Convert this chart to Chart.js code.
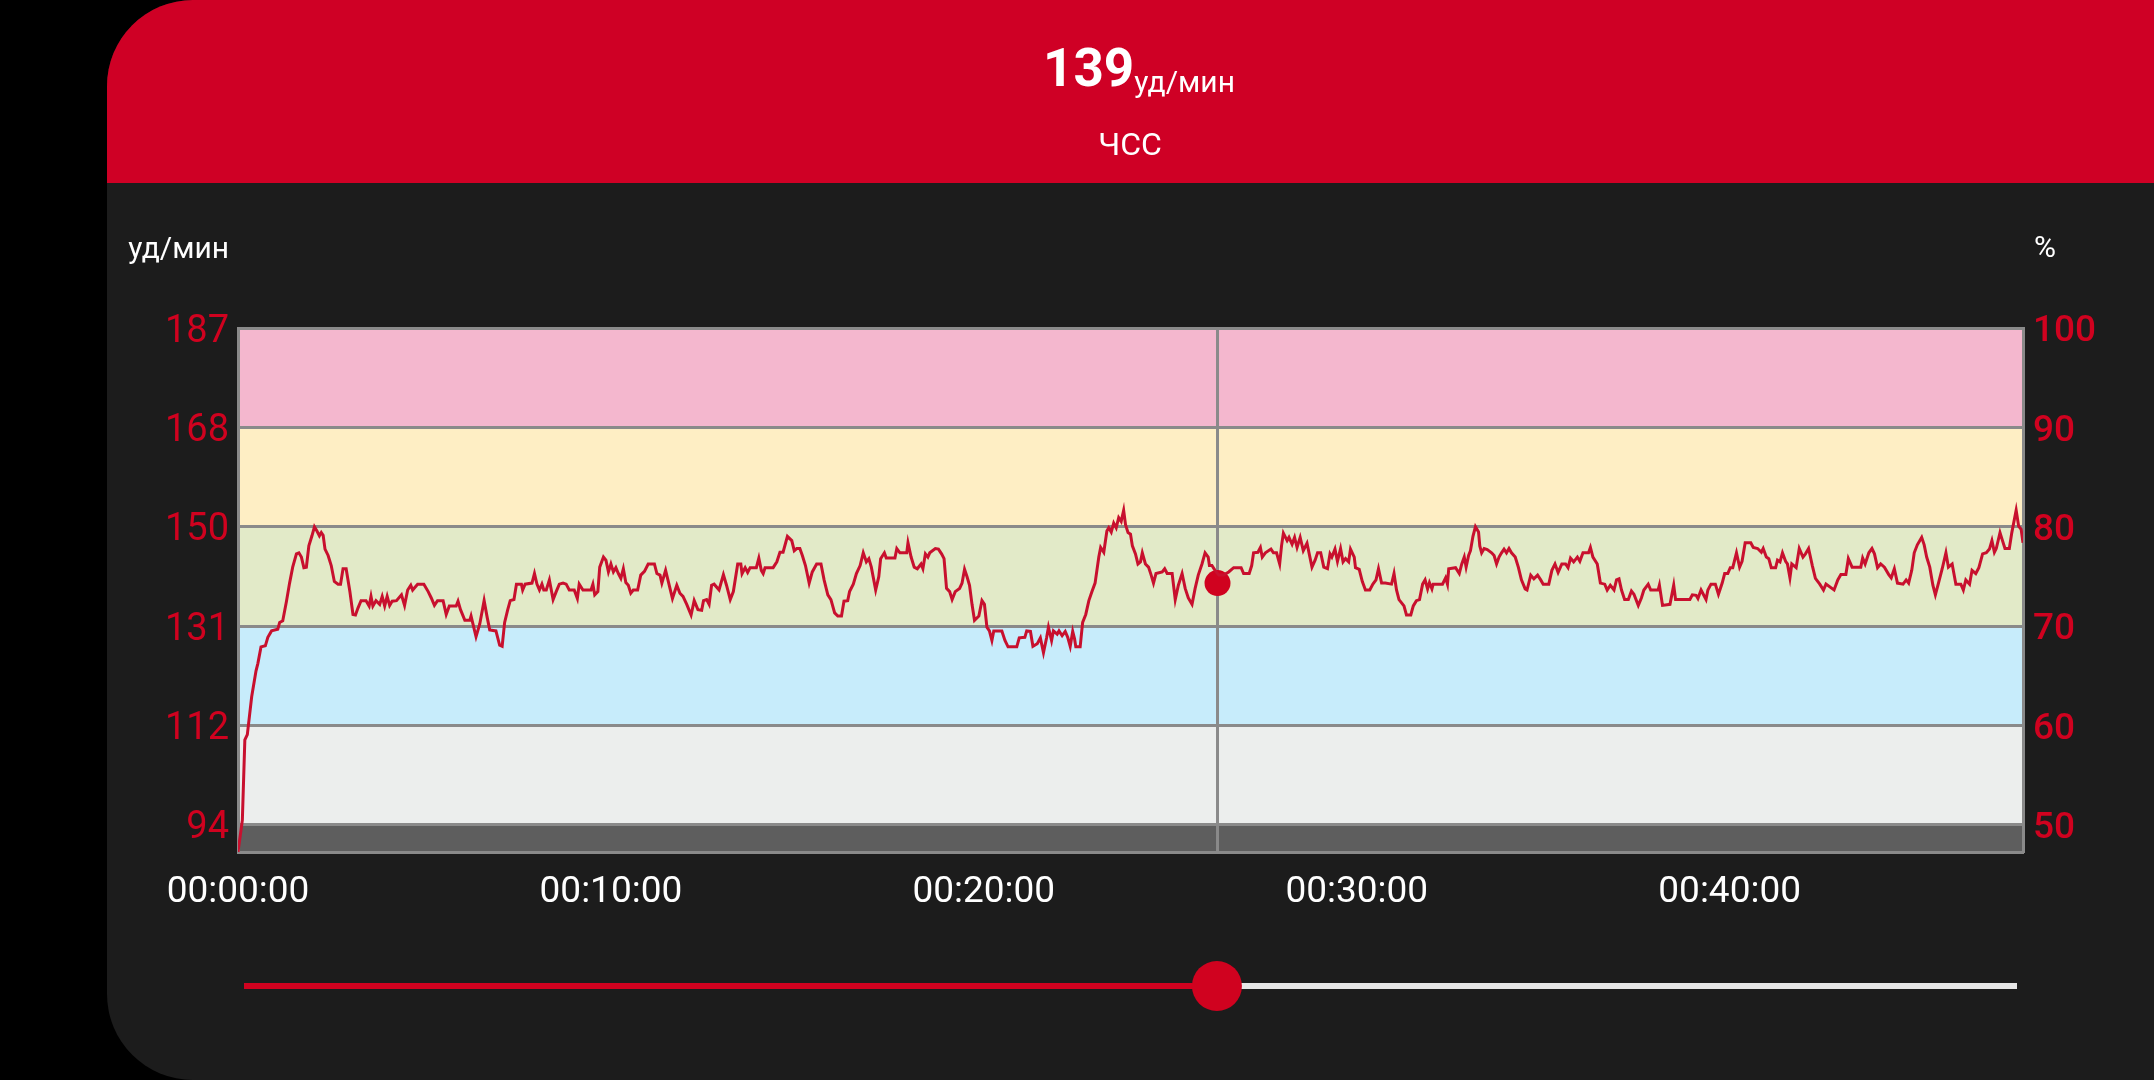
<!DOCTYPE html>
<html>
<head>
<meta charset="utf-8">
<script src="https://cdn.jsdelivr.net/npm/chart.js@4.4.1/dist/chart.umd.min.js"></script>
<style>
  html, body { margin: 0; padding: 0; background: #000; width: 2154px; height: 1080px; overflow: hidden; }
  #panel { position: absolute; left: 107px; top: 0; width: 2047px; height: 1080px; background: #1c1c1c;
           border-radius: 86px 0 0 86px; overflow: hidden; }
  #header { position: absolute; left: 0; top: 0; width: 100%; height: 183px; background: #cf0025; }
  #wrap { position: absolute; left: 0; top: 0; width: 2154px; height: 1080px; }
</style>
</head>
<body>
<div id="panel"><div id="header"></div></div>
<div id="wrap"><canvas id="hrChart"></canvas></div>
<script>
// heart rate samples: time (s) and bpm
const hrTimes = [
  0,7,11,15,22,29,32,37,44,48,54,64,67,72,78,83,88,94,98,102,106,110,114,119,123,127,131,134,137,140,145,150,155,161,165,169,174,180,185,189,
  193,198,206,211,214,217,222,228,232,236,240,244,248,255,263,268,273,278,281,289,299,306,311,316,321,330,335,340,351,354,358,365,373,375,383,389,396,401,405,415,
  421,425,429,434,438,444,448,456,458,462,473,477,481,485,489,492,496,501,507,512,517,523,528,533,541,546,549,555,568,571,574,579,582,
  588,592,596,600,604,608,612,616,620,624,628,632,636,643,648,654,660,670,674,679,682,688,693,699,706,711,716,722,729,734,740,746,749,754,758,762,
  766,774,781,786,792,797,804,809,811,816,820,824,834,838,842,845,848,861,867,872,877,884,891,895,899,904,908,913,919,924,931,938,943,949,954,960,
  965,971,975,981,984,990,995,1001,1006,1011,1015,1019,1026,1031,1034,1040,1043,1057,1060,1065,1076,1078,1083,1088,1093,1099,1102,1106,1110,1113,1122,1127,1132,1136,1140,1145,1149,1154,
  1161,1165,1169,1173,1177,1181,1185,1192,1197,1201,1205,1209,1213,1216,1229,1234,1239,1253,1257,1266,1269,1275,1279,1286,1291,1296,1301,1304,1309,1312,1318,1321,1326,1331,1335,1339,1343,1346,1348,1355,
  1359,1364,1369,1374,1379,1385,1388,1393,1398,1401,1405,1409,1413,1417,1421,1425,1428,1432,1436,1439,1444,1448,1452,1455,1460,1465,1469,1473,1477,1487,1491,1495,1503,1508,1513,1519,1524,1529,1535,1540,
  1545,1551,1556,1561,1563,1567,1572,1578,1586,1594,1602,1614,1618,1627,1631,1634,1641,1645,1648,1653,1662,1666,1671,1676,1679,1682,1688,1691,1696,1700,1704,1709,1714,1720,
  1728,1733,1737,1742,1747,1753,1757,1760,1765,1769,1774,1778,1782,1787,1790,1796,1798,1804,1809,1814,1821,1826,1831,1835,1840,1846,1856,1860,1864,1868,1876,1880,1887,1891,1896,1901,1906,1910,1914,1917,
  1921,1923,1938,1943,1946,1948,1959,1965,1969,1973,1976,1980,1983,1987,1991,1996,1998,2001,2005,2010,2017,2021,2025,2029,2033,2037,2041,2045,2049,2055,2060,2065,2071,2074,2080,2085,2091,2096,2100,2109,
  2114,2119,2124,2130,2136,2140,2144,2149,2155,2159,2164,2173,2176,2180,2187,2192,2199,2203,2208,2214,2218,2222,2226,2231,2237,2242,2246,2253,2258,2262,2269,2273,2285,2287,2292,2304,
  2310,2313,2336,2340,2346,2349,2354,2358,2362,2365,2370,2377,2382,2388,2392,2397,2401,2405,2411,2416,2420,2425,2434,2438,2445,2451,2454,2459,2463,2467,2474,2477,2481,2485,2490,2493,2497,2500,2507,2512,
  2518,2522,2527,2533,2538,2545,2551,2555,2568,2574,2579,2587,2591,2597,2611,2614,2618,2624,2629,2633,2638,2643,2649,2656,2660,2665,2670,2679,2684,2688,2693,2697,2702,2709,2713,2717,2722,2727,2731,2736,
  2742,2748,2752,2758,2764,2772,2776,2780,2786,2790,2796,2801,2807,2813,2818,2822,2826,2829,2835,2839,2843,2850,2854,2861,2865,2869,2872
];
const hrValues = [
  88.4,94.4,109.5,110.5,117.6,122.5,123.9,127.0,127.2,128.8,130.0,130.3,131.6,131.9,135.6,139.0,142.0,144.5,144.7,143.9,141.9,142.0,146.0,147.9,149.6,148.8,147.9,148.5,148.0,145.4,144.2,142.3,139.3,138.8,138.8,141.7,141.7,137.4,133.1,133.0,
  134.3,135.7,135.7,134.7,136.5,134.7,135.7,135.0,136.5,134.7,136.5,134.8,135.6,135.7,136.8,134.8,137.7,138.6,137.7,138.8,138.8,137.4,136.2,134.8,135.7,135.7,133.1,134.7,134.7,135.6,134.0,132.0,132.0,132.8,128.9,131.3,135.7,132.5,130.2,130.0,
  127.3,127.1,131.6,134.0,135.7,135.9,138.8,138.8,137.7,138.8,139.0,140.8,138.8,137.7,138.8,137.7,137.7,139.6,135.9,137.4,138.8,139.0,138.8,137.7,137.7,136.1,138.8,137.7,137.7,138.8,136.8,137.4,142.0,
  143.9,143.3,141.1,142.6,141.1,141.9,140.8,139.9,141.7,139.1,138.6,137.1,137.7,137.7,140.5,141.2,142.6,142.6,140.8,140.5,139.0,141.4,139.0,136.1,138.6,137.1,136.5,135.0,133.0,135.7,134.0,133.9,135.7,135.9,135.0,138.6,
  138.8,137.7,140.6,138.6,135.9,137.4,142.6,142.6,140.8,141.9,141.0,141.9,141.9,143.7,141.4,140.8,141.9,141.9,143.0,144.8,144.8,147.8,147.0,145.1,145.5,145.5,144.2,142.3,139.0,141.1,142.6,142.6,139.6,136.8,135.9,133.4,
  132.8,132.8,135.6,135.7,137.4,138.8,140.8,142.3,144.7,143.0,143.6,142.0,137.7,140.2,143.6,144.7,143.7,143.7,145.5,144.7,144.7,146.6,143.9,142.0,141.7,142.6,141.7,144.5,143.9,144.7,145.5,145.4,144.5,143.6,138.0,137.4,135.9,137.4,
  138.0,139.0,141.6,140.2,138.6,135.0,132.0,132.8,135.7,135.0,130.7,130.0,128.2,130.0,130.0,128.2,127.0,127.0,128.7,128.8,130.0,129.9,127.1,127.6,128.7,125.9,128.7,130.7,128.2,130.0,129.4,130.0,129.1,129.9,128.8,127.1,129.9,128.5,127.0,127.0,
  131.6,133.1,135.7,137.4,139.0,143.9,145.7,144.8,148.8,149.4,148.6,150.3,149.4,151.3,150.6,152.7,150.0,148.5,148.2,146.0,144.5,142.6,143.0,144.7,142.6,142.0,140.6,139.0,140.8,141.1,141.7,140.8,140.8,135.9,138.6,140.8,138.0,136.2,135.0,138.0,
  140.5,142.6,144.7,143.9,142.3,142.3,141.4,140.5,140.5,141.1,141.9,141.9,140.8,140.8,142.3,144.7,144.8,145.7,143.9,144.7,145.4,144.7,144.7,142.6,146.0,148.4,147.0,147.6,146.3,147.6,145.7,147.6,145.1,146.5,
  142.0,143.3,144.7,144.7,142.0,141.7,144.5,143.9,145.4,143.1,145.5,143.0,143.6,143.0,145.4,143.9,141.9,141.6,139.3,137.7,137.7,138.8,139.6,141.7,139.0,139.0,138.8,140.8,137.7,135.9,134.7,133.0,133.0,134.7,135.7,135.9,138.8,139.6,137.9,139.1,
  137.9,138.8,138.8,140.0,138.8,141.7,141.9,140.8,142.6,143.9,142.0,144.2,145.1,147.8,149.6,148.6,146.0,144.7,145.5,145.3,144.7,144.2,142.6,143.9,144.7,145.4,144.7,145.5,144.7,143.9,142.0,139.6,137.9,137.7,140.5,139.8,140.5,139.6,138.8,138.8,
  141.4,142.6,141.0,142.6,142.6,141.9,143.7,143.0,143.9,143.1,144.7,144.7,145.7,143.9,142.6,139.0,138.8,137.7,138.6,137.7,139.6,139.8,137.7,135.9,135.9,137.5,136.9,134.8,136.2,137.7,138.8,137.7,137.7,138.6,134.8,135.0,
  138.6,135.9,135.9,136.8,136.7,136.1,137.7,136.8,135.9,137.7,138.8,138.8,136.9,139.0,140.8,140.8,141.9,141.9,144.7,142.0,143.1,146.6,146.6,145.7,145.5,144.8,145.5,143.9,143.6,141.9,141.9,143.3,143.0,144.7,143.1,142.6,140.0,142.6,141.9,145.5,
  143.9,144.5,145.5,142.3,139.9,138.8,137.7,138.8,137.7,139.6,140.6,140.6,143.6,142.0,142.0,143.7,142.6,144.7,145.5,144.5,141.9,142.6,142.0,140.6,140.0,141.7,139.0,138.8,139.6,139.0,141.4,144.7,146.2,147.6,146.2,143.9,142.0,138.6,136.8,139.0,
  141.7,144.7,142.0,142.6,138.8,138.8,137.7,139.6,138.8,141.4,140.8,141.9,144.5,144.7,145.4,147.0,144.8,145.5,148.5,147.0,145.5,145.5,148.5,152.7,149.7,149.1,146.6
];

const maxHr = 187;
const zonePercents = [50, 60, 70, 80, 90, 100];
const zoneColors = ['#eceeed', '#c7ecfb', '#e2eac8', '#feeec4', '#f4b7ce'];
const belowZoneColor = '#5e5e5e';
const axisMinBpm = 88.4;
const xTickSeconds = [0, 600, 1200, 1800, 2400];
const durationSec = 2872;
const cursorTime = 1576;
const cursorBpm = 139;
const unitBpm = 'уд/мин';
const unitPct = '%';
const metricName = 'ЧСС';

const RED = '#d0021f';
const GRID = '#8a8a8a';

Chart.defaults.font.family = 'Roboto';

function fmtTime(s) {
  const h = Math.floor(s / 3600), m = Math.floor((s % 3600) / 60), sec = s % 60;
  return [h, m, sec].map(v => String(v).padStart(2, '0')).join(':');
}

const zonesPlugin = {
  id: 'zones',
  beforeDraw(chart) {
    const {ctx, chartArea: a} = chart;
    const y = chart.scales.y;
    ctx.save();
    ctx.fillStyle = belowZoneColor;
    const y50 = y.getPixelForValue(maxHr * zonePercents[0] / 100);
    ctx.fillRect(a.left, y50, a.right - a.left, a.bottom - y50);
    for (let i = 0; i < zoneColors.length; i++) {
      const top = y.getPixelForValue(maxHr * zonePercents[i + 1] / 100);
      const bot = y.getPixelForValue(maxHr * zonePercents[i] / 100);
      ctx.fillStyle = zoneColors[i];
      ctx.fillRect(a.left, top, a.right - a.left, bot - top);
    }
    ctx.restore();
  },
  beforeDatasetsDraw(chart) {
    const {ctx, chartArea: a} = chart;
    const x = chart.scales.x.getPixelForValue(cursorTime);
    ctx.save();
    ctx.strokeStyle = GRID;
    ctx.lineWidth = 3;
    ctx.beginPath();
    ctx.moveTo(x, a.top);
    ctx.lineTo(x, a.bottom);
    ctx.stroke();
    ctx.restore();
  },
  afterDraw(chart) {
    const {ctx} = chart;
    ctx.save();
    ctx.fillStyle = '#fff';
    ctx.textBaseline = 'alphabetic';
    // unit labels above the axes
    ctx.font = '30px Roboto';
    ctx.textAlign = 'right';
    ctx.fillText(unitBpm, 229, 258);
    ctx.textAlign = 'left';
    ctx.fillText(unitPct, 2034, 257);
    // header
    ctx.font = 'bold 53px Roboto';
    const big = String(cursorBpm);
    const w = ctx.measureText(big).width;
    ctx.fillText(big, 1043, 86);
    ctx.font = '30px Roboto';
    ctx.fillText(unitBpm, 1043 + w, 92);
    ctx.font = '32px Roboto';
    ctx.textAlign = 'center';
    ctx.fillText(metricName, 1130, 155);
    // slider
    const t0 = 244, t1 = 2017, ty = 986;
    const tx = t0 + (t1 - t0) * cursorTime / durationSec;
    ctx.lineWidth = 6;
    ctx.strokeStyle = '#e6e6e6';
    ctx.beginPath(); ctx.moveTo(tx, ty); ctx.lineTo(t1, ty); ctx.stroke();
    ctx.strokeStyle = RED;
    ctx.beginPath(); ctx.moveTo(t0, ty); ctx.lineTo(tx, ty); ctx.stroke();
    ctx.fillStyle = RED;
    ctx.beginPath(); ctx.arc(tx, ty, 25, 0, Math.PI * 2); ctx.fill();
    ctx.restore();
  }
};

const hrChart = new Chart(document.getElementById('hrChart'), {
  type: 'line',
  data: {
    datasets: [
      {
        data: hrTimes.map((t, i) => ({x: t, y: hrValues[i]})),
        borderColor: '#c8102e',
        borderWidth: 3,
        pointRadius: 0,
        tension: 0,
        yAxisID: 'y'
      },
      {
        type: 'scatter',
        data: [{x: cursorTime, y: cursorBpm}],
        backgroundColor: RED,
        borderWidth: 0,
        pointRadius: 13,
        yAxisID: 'y'
      }
    ]
  },
  options: {
    responsive: true,
    maintainAspectRatio: false,
    devicePixelRatio: 1,
    animation: false,
    layout: {padding: {top: 328, left: 0, right: 0, bottom: 0}},
    plugins: {legend: {display: false}, tooltip: {enabled: false}},
    scales: {
      x: {
        type: 'linear',
        min: 0,
        max: durationSec,
        afterBuildTicks: s => { s.ticks = xTickSeconds.map(v => ({value: v})); },
        afterFit: s => { s.height = 228; },
        grid: {display: false},
        border: {display: true, color: GRID, width: 3},
        ticks: {
          color: '#fff',
          font: {size: 37},
          padding: 11,
          maxRotation: 0,
          autoSkip: false,
          callback: v => fmtTime(v)
        }
      },
      y: {
        type: 'linear',
        position: 'left',
        min: axisMinBpm,
        max: maxHr,
        afterBuildTicks: s => { s.ticks = zonePercents.map(p => ({value: maxHr * p / 100})); },
        afterFit: s => { s.width = 238; },
        grid: {color: GRID, lineWidth: 3, drawTicks: false},
        border: {display: true, color: GRID, width: 3},
        ticks: {color: RED, font: {size: 38}, padding: 9, labelOffset: 4, callback: v => Math.round(v)}
      },
      y2: {
        type: 'linear',
        position: 'right',
        min: axisMinBpm / maxHr * 100,
        max: 100,
        afterBuildTicks: s => { s.ticks = zonePercents.map(p => ({value: p})); },
        afterFit: s => { s.width = 131; },
        grid: {display: false, drawTicks: false},
        border: {display: true, color: GRID, width: 3},
        ticks: {color: RED, font: {size: 37, weight: '500'}, padding: 10, labelOffset: 4}
      }
    }
  },
  plugins: [zonesPlugin]
});
</script>
</body>
</html>
